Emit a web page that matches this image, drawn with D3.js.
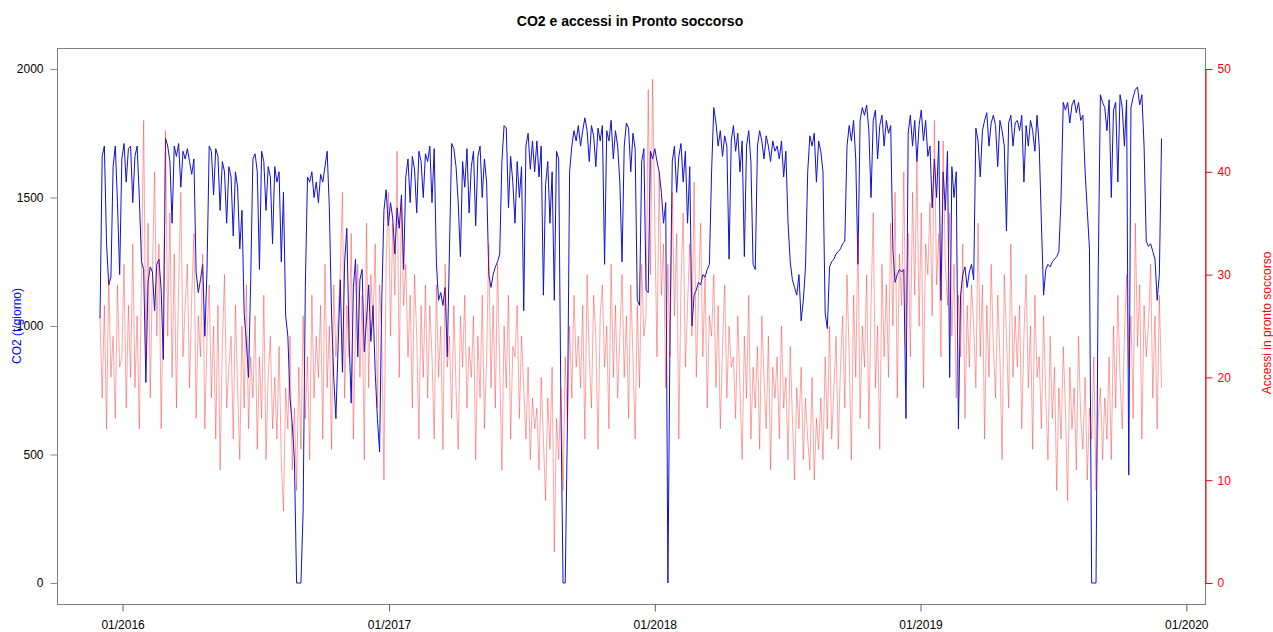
<!DOCTYPE html>
<html>
<head>
<meta charset="utf-8">
<script src="https://cdnjs.cloudflare.com/ajax/libs/d3/7.8.5/d3.min.js"></script>
<style>
	body { margin: 0; background: #fff; }
	text { font-family: "Liberation Sans", Arial, sans-serif; }
</style>
</head>
<body>
<script>
const firstDay = '2015-12-01'; //First reading.
const stepDays = 3; //One reading every 3 days.

//CO2 (t/giorno).
const co2Part1 = [ //Dec 2015 - Nov 2016
	1030, 1660, 1700, 1320, 1160, 1190, 1620, 1700, 1480, 1200,
	1650, 1710, 1560, 1690, 1700, 1480, 1660, 1700, 1500, 1250,
	1220, 780, 1170, 1230, 1210, 1060, 1240, 1260, 1140, 870,
	1730, 1700, 1640, 1400, 1700, 1660, 1710, 1540, 1680, 1650,
	1690, 1640, 1590, 1650, 1210, 1130, 1180, 1240, 960, 1220,
	1700, 1680, 1510, 1690, 1660, 1450, 1640, 1600, 1400, 1620,
	1580, 1350, 1600, 1540, 1300, 1450, 1050, 940, 800, 1180,
	1650, 1670, 1600, 1220, 1680, 1640, 1450, 1620, 1580, 1320,
	1620, 1560, 1600, 1250, 1520, 1040, 960, 720, 620, 480,
	0, 0, 0, 280, 1150, 1580, 1560, 1600, 1500, 1560,
	1480, 1590, 1560, 1620, 1680, 1460, 1050, 800, 640, 920,
	1180, 820, 1250, 1380, 960, 700, 1150, 1260, 880, 1180
];
const co2Part2 = [ //Nov 2016 - Nov 2017
	1220, 900, 1020, 1160, 940, 1080, 820, 640, 510, 1100,
	1450, 1530, 1390, 1480, 1420, 1280, 1460, 1380, 1510, 1220,
	1580, 1650, 1480, 1660, 1610, 1440, 1680, 1640, 1500, 1670,
	1640, 1700, 1480, 1690, 1250, 1100, 1130, 1080, 1150, 880,
	1300, 1710, 1690, 1620, 1480, 1270, 1640, 1540, 1690, 1440,
	1620, 1680, 1390, 1660, 1700, 1500, 1650, 1560, 1200, 1150,
	1200, 1230, 1250, 1280, 1640, 1780, 1770, 1460, 1660, 1560,
	1400, 1640, 1500, 1620, 1060, 1700, 1750, 1610, 1720, 1600,
	1720, 1580, 1700, 1120, 1550, 1640, 1400, 1600, 1100, 1680,
	1650, 700, 0, 0, 620, 1600, 1700, 1760, 1720, 1780,
	1700, 1760, 1810, 1760, 1640, 1780, 1740, 1620, 1770, 1720,
	1780, 1240, 1760, 1720, 1800, 1650, 1760, 1700, 1560, 1250
];
const co2Part3 = [ //Nov 2017 - Nov 2018
	1700, 1790, 1770, 1600, 1750, 1690, 1100, 1080, 1640, 1690,
	1140, 1130, 1680, 1650, 1690, 1640, 1600, 1520, 1400, 1480,
	0, 1000, 1640, 1700, 1520, 1660, 1710, 1560, 1680, 1400,
	1620, 1000, 1120, 1140, 1170, 1160, 1200, 1190, 1220, 1240,
	1600, 1850, 1790, 1700, 1760, 1660, 1740, 1700, 1260, 1720,
	1780, 1680, 1750, 1600, 1720, 1270, 1700, 1760, 1640, 1240,
	1220, 1700, 1760, 1720, 1650, 1740, 1700, 1640, 1720, 1680,
	1700, 1650, 1720, 1580, 1680, 1400, 1250, 1180, 1150, 1120,
	1200, 1020, 1100, 1230, 1600, 1740, 1700, 1750, 1560, 1720,
	1680, 1600, 1050, 990, 1230, 1250, 1260, 1280, 1290, 1300,
	1320, 1330, 1700, 1780, 1720, 1800, 1650, 1240, 1800, 1850,
	1820, 1860, 1760, 1500, 1800, 1840, 1650, 1780, 1820, 1700
];
const co2Part4 = [ //Nov 2018 - Nov 2019
	1800, 1750, 1780, 1300, 1170, 1200, 1220, 1210, 1220, 640,
	1750, 1820, 1700, 1800, 1640, 1780, 1840, 1720, 1800, 1660,
	1700, 1460, 1650, 1500, 1720, 1100, 1600, 1450, 1680, 800,
	1620, 1500, 1600, 600, 1120, 1200, 1230, 1150, 1210, 1240,
	1180, 1770, 1720, 1580, 1760, 1800, 1830, 1700, 1790, 1820,
	1780, 1620, 1800, 1760, 1700, 1370, 1790, 1820, 1700, 1790,
	1800, 1760, 1820, 1560, 1780, 1700, 1800, 1760, 1680, 1820,
	1700, 1400, 1120, 1220, 1240, 1230, 1250, 1260, 1270, 1290,
	1500, 1870, 1840, 1870, 1790, 1860, 1880, 1830, 1870, 1800,
	1820, 1600, 1450, 1300, 0, 0, 0, 1200, 1900, 1870,
	1850, 1760, 1880, 1500, 1840, 1870, 1560, 1900, 1850, 1700,
	1880, 420, 1850, 1890, 1920, 1930, 1860, 1900, 1700, 1330,
	1310, 1320, 1290, 1260, 1100, 1200, 1730
];

//Accessi in pronto soccorso, same days.
const accPart1 = [
	26, 18, 27, 15, 30, 20, 24, 16, 29, 21,
	22, 31, 17, 27, 20, 33, 19, 26, 15, 30,
	45, 22, 35, 18, 30, 40, 24, 33, 15, 28,
	44, 24, 36, 20, 32, 17, 29, 38, 22, 27,
	31, 19, 28, 34, 16, 26, 22, 32, 15, 24,
	29, 18, 25, 14, 27, 11, 23, 30, 17, 21,
	24, 14, 27, 19, 12, 25, 17, 29, 15, 22,
	18, 26, 13, 22, 16, 28, 12, 20, 24, 15,
	20, 14, 23, 12, 7, 19, 15, 24, 11, 17,
	9, 21, 13, 26, 16, 22, 12, 28, 18, 24,
	20, 27, 14, 31, 19, 25, 13, 29, 22, 26,
	30, 38, 18, 27, 22, 34, 14, 25, 31, 20
];
const accPart2 = [
	28, 12, 35, 19, 30, 25, 33, 17, 29, 24,
	10, 31, 38, 24, 35, 28, 42, 20, 37, 27,
	31, 22, 28, 17, 30, 24, 14, 27, 20, 29,
	18, 27, 22, 14, 29, 20, 25, 13, 31, 21,
	24, 16, 27, 19, 13, 26, 21, 28, 17, 23,
	20, 26, 12, 24, 18, 28, 15, 22, 33, 19,
	27, 17, 31, 21, 11, 25, 19, 28, 14, 23,
	22, 27, 16, 24, 19, 14, 21, 12, 18, 15,
	17, 11, 20, 14, 8, 18, 13, 21, 3, 16,
	12, 19, 9, 22, 15, 25, 18, 28, 21, 24,
	19, 27, 14, 30, 22, 17, 28, 24, 13, 26,
	29, 21, 25, 15, 31, 20, 27, 18, 24, 30
];
const accPart3 = [
	20, 26, 16, 29, 22, 14, 27, 19, 31, 24,
	26, 48, 30, 49, 35, 22, 40, 28, 33, 19,
	31, 22, 38, 26, 34, 14, 29, 36, 21, 27,
	33, 24, 39, 20, 28, 35, 22, 30, 17, 26,
	24, 30, 19, 27, 15, 23, 29, 18, 25, 21,
	22, 16, 26, 19, 12, 24, 18, 28, 14, 21,
	17, 23, 13, 26, 20, 15, 24, 11, 21, 18,
	22, 14, 25, 17, 20, 12, 23, 16, 10, 19,
	15, 21, 12, 18, 14, 11, 20, 10, 16, 13,
	18, 12, 22, 15, 25, 14, 19, 24, 13, 21,
	26, 17, 30, 22, 12, 28, 20, 34, 16, 25,
	21, 30, 15, 27, 36, 19, 25, 13, 31, 22
];
const accPart4 = [
	29, 20, 35, 25, 38, 18, 32, 27, 40, 23,
	34, 22, 38, 28, 41, 25, 36, 19, 33, 30,
	37, 26, 45, 29, 34, 22, 43, 31, 27, 36,
	24, 31, 18, 28, 22, 33, 16, 27, 21, 29,
	25, 19, 35, 22, 29, 14, 27, 20, 31, 23,
	18, 28, 22, 12, 30, 24, 17, 33, 20, 26,
	21, 27, 15, 24, 30, 19, 25, 13, 28, 20,
	22, 15, 26, 18, 12, 24, 16, 21, 9, 19,
	14, 23, 17, 8, 21, 15, 19, 11, 24, 16,
	13, 20, 10, 17, 14, 22, 9, 16, 19, 12,
	18, 14, 22, 12, 25, 17, 28, 20, 15, 24,
	30, 21, 26, 16, 35, 23, 29, 14, 27, 22,
	25, 31, 18, 26, 15, 28, 19
];

const co2Ticks = [0, 500, 1000, 1500, 2000];
const accTicks = [0, 10, 20, 30, 40, 50];
const xTickDates = ['2016-01-01', '2017-01-01', '2018-01-01', '2019-01-01', '2020-01-01'];
const xTickLabels = ['01/2016', '01/2017', '01/2018', '01/2019', '01/2020'];

const svgWidth = 1273;
const svgHeight = 632;
const box = {left: 57, right: 1205, top: 48, bottom: 604}; //Plot frame.

const co2 = [].concat(co2Part1, co2Part2, co2Part3, co2Part4);
const acc = [].concat(accPart1, accPart2, accPart3, accPart4);
const day0 = d3.isoParse(firstDay);
const days = co2.map((d, i) => d3.utcDay.offset(day0, i * stepDays));

const xScale = d3.scaleUtc()
	.domain([day0, d3.isoParse('2019-11-30')])
	.range([100, 1163]);

const yLeft = d3.scaleLinear() //CO2 scale.
	.domain([0, 2000])
	.range([583, 69]);

const yRight = d3.scaleLinear() //Accessi scale.
	.domain([0, 50])
	.range([583, 69]);

const svg = d3.select('body')
	.append('svg')
	.attr('width', svgWidth)
	.attr('height', svgHeight);

svg.append('text') //Title.
	.attr('x', 630)
	.attr('y', 26)
	.attr('text-anchor', 'middle')
	.style('font-size', '14px')
	.style('font-weight', 'bold')
	.text('CO2 e accessi in Pronto soccorso');

//CO2 line first, accessi drawn over it.
const co2Line = d3.line()
	.x((d, i) => xScale(days[i]))
	.y(d => yLeft(d));

svg.append('path')
	.datum(co2)
	.attr('d', co2Line)
	.attr('fill', 'none')
	.attr('stroke', '#1010d0')
	.attr('stroke-width', 1);

const accLine = d3.line()
	.x((d, i) => xScale(days[i]))
	.y(d => yRight(d));

svg.append('path')
	.datum(acc)
	.attr('d', accLine)
	.attr('fill', 'none')
	.attr('stroke', 'rgba(255,0,0,0.36)')
	.attr('stroke-width', 1);

svg.append('rect') //Frame.
	.attr('x', box.left + 0.5)
	.attr('y', box.top + 0.5)
	.attr('width', box.right - box.left)
	.attr('height', box.bottom - box.top)
	.attr('fill', 'none')
	.attr('stroke', '#808080');

//Left axis.
const leftAxis = svg.append('g')
	.attr('transform', 'translate(' + (box.left + 0.5) + ',0)')
	.call(d3.axisLeft(yLeft)
		.tickValues(co2Ticks)
		.tickFormat(d3.format('d'))
		.tickSize(7)
		.tickPadding(7));
leftAxis.select('.domain').remove();
leftAxis.selectAll('line').attr('stroke', '#8080c8');
leftAxis.selectAll('text')
	.style('font-size', '12px')
	.attr('fill', '#000');

//Right axis.
const rightAxis = svg.append('g')
	.attr('transform', 'translate(' + (box.right + 0.5) + ',0)')
	.call(d3.axisRight(yRight).tickValues(accTicks).tickSize(7).tickSizeOuter(0).tickPadding(5));
rightAxis.select('.domain').attr('stroke', 'red');
rightAxis.selectAll('line').attr('stroke', 'red');
rightAxis.selectAll('text')
	.style('font-size', '12px')
	.attr('fill', 'red');

//Bottom axis.
const bottomAxis = svg.append('g')
	.attr('transform', 'translate(0,' + (box.bottom + 0.5) + ')')
	.call(d3.axisBottom(xScale)
		.tickValues(xTickDates.map(d => d3.isoParse(d)))
		.tickFormat((d, i) => xTickLabels[i])
		.tickSize(7)
		.tickPadding(9));
bottomAxis.select('.domain').remove();
bottomAxis.selectAll('line').attr('stroke', '#606060');
bottomAxis.selectAll('text')
	.style('font-size', '12px')
	.attr('fill', '#000');

svg.append('text') //Left axis title.
	.attr('transform', 'translate(17,326) rotate(-90)')
	.attr('text-anchor', 'middle')
	.attr('dy', '0.35em')
	.style('font-size', '12px')
	.attr('fill', 'blue')
	.text('CO2 (t/giorno)');

svg.append('text') //Right axis title.
	.attr('transform', 'translate(1267,323) rotate(-90)')
	.attr('text-anchor', 'middle')
	.attr('dy', '0.35em')
	.style('font-size', '12px')
	.attr('fill', 'red')
	.text('Accessi in pronto soccorso');
</script>
</body>
</html>
